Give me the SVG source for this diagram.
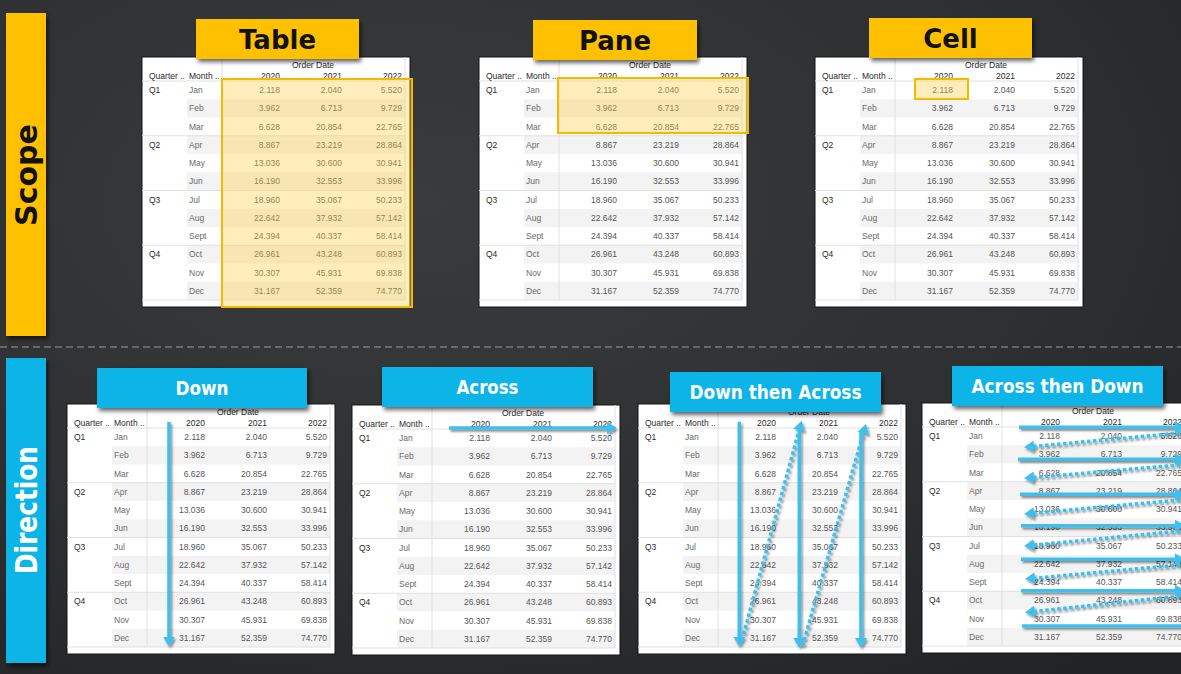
<svg xmlns="http://www.w3.org/2000/svg" width="1181" height="674" viewBox="0 0 1181 674">
<style>
.box{fill:#fff;stroke:#151515;stroke-width:1}
.sh{fill:#f3f3f3}
.gl{stroke:#e0e0e0;stroke-width:1;fill:none}
.hd,.qt,.mo,.va{font-family:'Liberation Sans',Arial,sans-serif;font-size:8.5px}
.hd{fill:#2a2a2a;font-size:8.5px}
.qt{fill:#2a2a2a}
.mo{fill:#6a6a6a}
.va{fill:#555;text-anchor:end}
.e{text-anchor:end}
.ybox{fill:#FFC000}
.bbox{fill:#10B4E8}
.ytxt{font-family:'DejaVu Sans',sans-serif;font-weight:bold;font-size:26px;fill:#111;text-anchor:middle}
.btxt{font-family:'DejaVu Sans',sans-serif;font-weight:bold;font-size:19px;fill:#fff;text-anchor:middle}
.side{font-family:'DejaVu Sans',sans-serif;font-weight:bold;font-size:30px;text-anchor:middle}
.hlt{fill:#ffd24d;fill-opacity:0.38;stroke:#f6b900;stroke-width:2}
.ar{stroke:#41bfec;stroke-width:3.5;fill:none;marker-end:url(#ah)}
.dt{stroke:#41bfec;stroke-width:3.5;fill:none;stroke-dasharray:3.5 2.5;marker-end:url(#ah)}
</style>
<defs>
<radialGradient id="bgg" cx="0.35" cy="0.3" r="0.9">
<stop offset="0" stop-color="#3a3b3d"/>
<stop offset="0.6" stop-color="#2e2f31"/>
<stop offset="1" stop-color="#222325"/>
</radialGradient>
<filter id="shd" x="-10%" y="-20%" width="130%" height="160%">
<feDropShadow dx="2" dy="3" stdDeviation="2" flood-color="#000" flood-opacity="0.6"/>
</filter>
<filter id="ashd" x="-10%" y="-10%" width="120%" height="120%">
<feDropShadow dx="1.5" dy="2" stdDeviation="1" flood-color="#000" flood-opacity="0.45"/>
</filter>
<marker id="ah" viewBox="0 0 10 12" refX="1" refY="6" markerWidth="10" markerHeight="12" markerUnits="userSpaceOnUse" orient="auto">
<path d="M0,0 L10,6 L0,12 Z" fill="#41bfec"/>
</marker>
<g id="grid">
<rect class="box" x="0" y="0" width="268" height="250"/>
<rect class="sh" x="45" y="42.25" width="218" height="18.25"/>
<rect class="sh" x="45" y="78.75" width="218" height="18.25"/>
<rect class="sh" x="45" y="115.25" width="218" height="18.25"/>
<rect class="sh" x="45" y="151.75" width="218" height="18.25"/>
<rect class="sh" x="45" y="188.25" width="218" height="18.25"/>
<rect class="sh" x="45" y="224.75" width="218" height="18.25"/>
<path class="gl" d="M0,24H263M0,78.75H263M0,133.5H263M0,188.25H263M0,243H263M80,0V243M263,0V243"/>
</g>
</defs>

<rect width="1181" height="674" fill="url(#bgg)"/>
<line x1="0" y1="347" x2="1181" y2="347" stroke="#9c9c9c" stroke-width="1.2" stroke-dasharray="7 4"/>

<g id="scope-bar">
<rect x="6" y="13" width="40" height="323" fill="#FFC000" filter="url(#shd)"/>
<text class="side" fill="#111" transform="translate(37,175) rotate(-90)">Scope</text>
</g>
<g id="direction-bar">
<rect x="6" y="358" width="40" height="305" fill="#10B4E8" filter="url(#shd)"/>
<text class="side" fill="#fff" textLength="128" lengthAdjust="spacingAndGlyphs" transform="translate(37,510) rotate(-90)">Direction</text>
</g>

<!-- Table scope -->
<g id="table-scope" transform="translate(142,57)">
<use href="#grid"/>
<g class="hd"><text x="171" y="10.5" text-anchor="middle">Order Date</text><text x="7" y="22">Quarter ..</text><text x="47" y="22">Month ..</text><text class="e" x="138" y="21.5">2020</text><text class="e" x="200" y="21.5">2021</text><text class="e" x="260" y="21.5">2022</text></g>
<g class="qt"><text x="7" y="36.1">Q1</text><text x="7" y="90.85">Q2</text><text x="7" y="145.6">Q3</text><text x="7" y="200.35">Q4</text></g>
<g class="mo" transform="translate(47,0)"><text y="36.1">Jan</text><text y="54.35">Feb</text><text y="72.6">Mar</text><text y="90.85">Apr</text><text y="109.1">May</text><text y="127.35">Jun</text><text y="145.6">Jul</text><text y="163.85">Aug</text><text y="182.1">Sept</text><text y="200.35">Oct</text><text y="218.6">Nov</text><text y="236.85">Dec</text></g>
<g class="va" transform="translate(138,0)"><text y="36.1">2.118</text><text y="54.35">3.962</text><text y="72.6">6.628</text><text y="90.85">8.867</text><text y="109.1">13.036</text><text y="127.35">16.190</text><text y="145.6">18.960</text><text y="163.85">22.642</text><text y="182.1">24.394</text><text y="200.35">26.961</text><text y="218.6">30.307</text><text y="236.85">31.167</text></g>
<g class="va" transform="translate(200,0)"><text y="36.1">2.040</text><text y="54.35">6.713</text><text y="72.6">20.854</text><text y="90.85">23.219</text><text y="109.1">30.600</text><text y="127.35">32.553</text><text y="145.6">35.067</text><text y="163.85">37.932</text><text y="182.1">40.337</text><text y="200.35">43.248</text><text y="218.6">45.931</text><text y="236.85">52.359</text></g>
<g class="va" transform="translate(260,0)"><text y="36.1">5.520</text><text y="54.35">9.729</text><text y="72.6">22.765</text><text y="90.85">28.864</text><text y="109.1">30.941</text><text y="127.35">33.996</text><text y="145.6">50.233</text><text y="163.85">57.142</text><text y="182.1">58.414</text><text y="200.35">60.893</text><text y="218.6">69.838</text><text y="236.85">74.770</text></g>
<rect class="hlt" x="80" y="22" width="190" height="228"/>
</g>

<!-- Pane scope -->
<g id="table-pane" transform="translate(479,57)">
<use href="#grid"/>
<g class="hd"><text x="171" y="10.5" text-anchor="middle">Order Date</text><text x="7" y="22">Quarter ..</text><text x="47" y="22">Month ..</text><text class="e" x="138" y="21.5">2020</text><text class="e" x="200" y="21.5">2021</text><text class="e" x="260" y="21.5">2022</text></g>
<g class="qt"><text x="7" y="36.1">Q1</text><text x="7" y="90.85">Q2</text><text x="7" y="145.6">Q3</text><text x="7" y="200.35">Q4</text></g>
<g class="mo" transform="translate(47,0)"><text y="36.1">Jan</text><text y="54.35">Feb</text><text y="72.6">Mar</text><text y="90.85">Apr</text><text y="109.1">May</text><text y="127.35">Jun</text><text y="145.6">Jul</text><text y="163.85">Aug</text><text y="182.1">Sept</text><text y="200.35">Oct</text><text y="218.6">Nov</text><text y="236.85">Dec</text></g>
<g class="va" transform="translate(138,0)"><text y="36.1">2.118</text><text y="54.35">3.962</text><text y="72.6">6.628</text><text y="90.85">8.867</text><text y="109.1">13.036</text><text y="127.35">16.190</text><text y="145.6">18.960</text><text y="163.85">22.642</text><text y="182.1">24.394</text><text y="200.35">26.961</text><text y="218.6">30.307</text><text y="236.85">31.167</text></g>
<g class="va" transform="translate(200,0)"><text y="36.1">2.040</text><text y="54.35">6.713</text><text y="72.6">20.854</text><text y="90.85">23.219</text><text y="109.1">30.600</text><text y="127.35">32.553</text><text y="145.6">35.067</text><text y="163.85">37.932</text><text y="182.1">40.337</text><text y="200.35">43.248</text><text y="218.6">45.931</text><text y="236.85">52.359</text></g>
<g class="va" transform="translate(260,0)"><text y="36.1">5.520</text><text y="54.35">9.729</text><text y="72.6">22.765</text><text y="90.85">28.864</text><text y="109.1">30.941</text><text y="127.35">33.996</text><text y="145.6">50.233</text><text y="163.85">57.142</text><text y="182.1">58.414</text><text y="200.35">60.893</text><text y="218.6">69.838</text><text y="236.85">74.770</text></g>
<rect class="hlt" x="79" y="21" width="190" height="55"/>
</g>

<!-- Cell scope -->
<g id="table-cell" transform="translate(815,57)">
<use href="#grid"/>
<g class="hd"><text x="171" y="10.5" text-anchor="middle">Order Date</text><text x="7" y="22">Quarter ..</text><text x="47" y="22">Month ..</text><text class="e" x="138" y="21.5">2020</text><text class="e" x="200" y="21.5">2021</text><text class="e" x="260" y="21.5">2022</text></g>
<g class="qt"><text x="7" y="36.1">Q1</text><text x="7" y="90.85">Q2</text><text x="7" y="145.6">Q3</text><text x="7" y="200.35">Q4</text></g>
<g class="mo" transform="translate(47,0)"><text y="36.1">Jan</text><text y="54.35">Feb</text><text y="72.6">Mar</text><text y="90.85">Apr</text><text y="109.1">May</text><text y="127.35">Jun</text><text y="145.6">Jul</text><text y="163.85">Aug</text><text y="182.1">Sept</text><text y="200.35">Oct</text><text y="218.6">Nov</text><text y="236.85">Dec</text></g>
<g class="va" transform="translate(138,0)"><text y="36.1">2.118</text><text y="54.35">3.962</text><text y="72.6">6.628</text><text y="90.85">8.867</text><text y="109.1">13.036</text><text y="127.35">16.190</text><text y="145.6">18.960</text><text y="163.85">22.642</text><text y="182.1">24.394</text><text y="200.35">26.961</text><text y="218.6">30.307</text><text y="236.85">31.167</text></g>
<g class="va" transform="translate(200,0)"><text y="36.1">2.040</text><text y="54.35">6.713</text><text y="72.6">20.854</text><text y="90.85">23.219</text><text y="109.1">30.600</text><text y="127.35">32.553</text><text y="145.6">35.067</text><text y="163.85">37.932</text><text y="182.1">40.337</text><text y="200.35">43.248</text><text y="218.6">45.931</text><text y="236.85">52.359</text></g>
<g class="va" transform="translate(260,0)"><text y="36.1">5.520</text><text y="54.35">9.729</text><text y="72.6">22.765</text><text y="90.85">28.864</text><text y="109.1">30.941</text><text y="127.35">33.996</text><text y="145.6">50.233</text><text y="163.85">57.142</text><text y="182.1">58.414</text><text y="200.35">60.893</text><text y="218.6">69.838</text><text y="236.85">74.770</text></g>
<rect class="hlt" x="100" y="22" width="53" height="20"/>
</g>

<!-- Down -->
<g id="table-down" transform="translate(67,404)">
<use href="#grid"/>
<g class="hd"><text x="171" y="10.5" text-anchor="middle">Order Date</text><text x="7" y="22">Quarter ..</text><text x="47" y="22">Month ..</text><text class="e" x="138" y="21.5">2020</text><text class="e" x="200" y="21.5">2021</text><text class="e" x="260" y="21.5">2022</text></g>
<g class="qt"><text x="7" y="36.1">Q1</text><text x="7" y="90.85">Q2</text><text x="7" y="145.6">Q3</text><text x="7" y="200.35">Q4</text></g>
<g class="mo" transform="translate(47,0)"><text y="36.1">Jan</text><text y="54.35">Feb</text><text y="72.6">Mar</text><text y="90.85">Apr</text><text y="109.1">May</text><text y="127.35">Jun</text><text y="145.6">Jul</text><text y="163.85">Aug</text><text y="182.1">Sept</text><text y="200.35">Oct</text><text y="218.6">Nov</text><text y="236.85">Dec</text></g>
<g class="va" transform="translate(138,0)"><text y="36.1">2.118</text><text y="54.35">3.962</text><text y="72.6">6.628</text><text y="90.85">8.867</text><text y="109.1">13.036</text><text y="127.35">16.190</text><text y="145.6">18.960</text><text y="163.85">22.642</text><text y="182.1">24.394</text><text y="200.35">26.961</text><text y="218.6">30.307</text><text y="236.85">31.167</text></g>
<g class="va" transform="translate(200,0)"><text y="36.1">2.040</text><text y="54.35">6.713</text><text y="72.6">20.854</text><text y="90.85">23.219</text><text y="109.1">30.600</text><text y="127.35">32.553</text><text y="145.6">35.067</text><text y="163.85">37.932</text><text y="182.1">40.337</text><text y="200.35">43.248</text><text y="218.6">45.931</text><text y="236.85">52.359</text></g>
<g class="va" transform="translate(260,0)"><text y="36.1">5.520</text><text y="54.35">9.729</text><text y="72.6">22.765</text><text y="90.85">28.864</text><text y="109.1">30.941</text><text y="127.35">33.996</text><text y="145.6">50.233</text><text y="163.85">57.142</text><text y="182.1">58.414</text><text y="200.35">60.893</text><text y="218.6">69.838</text><text y="236.85">74.770</text></g>
</g>

<!-- Across -->
<g id="table-across" transform="translate(352,405)">
<use href="#grid"/>
<g class="hd"><text x="171" y="10.5" text-anchor="middle">Order Date</text><text x="7" y="22">Quarter ..</text><text x="47" y="22">Month ..</text><text class="e" x="138" y="21.5">2020</text><text class="e" x="200" y="21.5">2021</text><text class="e" x="260" y="21.5">2022</text></g>
<g class="qt"><text x="7" y="36.1">Q1</text><text x="7" y="90.85">Q2</text><text x="7" y="145.6">Q3</text><text x="7" y="200.35">Q4</text></g>
<g class="mo" transform="translate(47,0)"><text y="36.1">Jan</text><text y="54.35">Feb</text><text y="72.6">Mar</text><text y="90.85">Apr</text><text y="109.1">May</text><text y="127.35">Jun</text><text y="145.6">Jul</text><text y="163.85">Aug</text><text y="182.1">Sept</text><text y="200.35">Oct</text><text y="218.6">Nov</text><text y="236.85">Dec</text></g>
<g class="va" transform="translate(138,0)"><text y="36.1">2.118</text><text y="54.35">3.962</text><text y="72.6">6.628</text><text y="90.85">8.867</text><text y="109.1">13.036</text><text y="127.35">16.190</text><text y="145.6">18.960</text><text y="163.85">22.642</text><text y="182.1">24.394</text><text y="200.35">26.961</text><text y="218.6">30.307</text><text y="236.85">31.167</text></g>
<g class="va" transform="translate(200,0)"><text y="36.1">2.040</text><text y="54.35">6.713</text><text y="72.6">20.854</text><text y="90.85">23.219</text><text y="109.1">30.600</text><text y="127.35">32.553</text><text y="145.6">35.067</text><text y="163.85">37.932</text><text y="182.1">40.337</text><text y="200.35">43.248</text><text y="218.6">45.931</text><text y="236.85">52.359</text></g>
<g class="va" transform="translate(260,0)"><text y="36.1">5.520</text><text y="54.35">9.729</text><text y="72.6">22.765</text><text y="90.85">28.864</text><text y="109.1">30.941</text><text y="127.35">33.996</text><text y="145.6">50.233</text><text y="163.85">57.142</text><text y="182.1">58.414</text><text y="200.35">60.893</text><text y="218.6">69.838</text><text y="236.85">74.770</text></g>
</g>

<!-- Down then Across -->
<g id="table-down-then-across" transform="translate(638,404)">
<use href="#grid"/>
<g class="hd"><text x="171" y="10.5" text-anchor="middle">Order Date</text><text x="7" y="22">Quarter ..</text><text x="47" y="22">Month ..</text><text class="e" x="138" y="21.5">2020</text><text class="e" x="200" y="21.5">2021</text><text class="e" x="260" y="21.5">2022</text></g>
<g class="qt"><text x="7" y="36.1">Q1</text><text x="7" y="90.85">Q2</text><text x="7" y="145.6">Q3</text><text x="7" y="200.35">Q4</text></g>
<g class="mo" transform="translate(47,0)"><text y="36.1">Jan</text><text y="54.35">Feb</text><text y="72.6">Mar</text><text y="90.85">Apr</text><text y="109.1">May</text><text y="127.35">Jun</text><text y="145.6">Jul</text><text y="163.85">Aug</text><text y="182.1">Sept</text><text y="200.35">Oct</text><text y="218.6">Nov</text><text y="236.85">Dec</text></g>
<g class="va" transform="translate(138,0)"><text y="36.1">2.118</text><text y="54.35">3.962</text><text y="72.6">6.628</text><text y="90.85">8.867</text><text y="109.1">13.036</text><text y="127.35">16.190</text><text y="145.6">18.960</text><text y="163.85">22.642</text><text y="182.1">24.394</text><text y="200.35">26.961</text><text y="218.6">30.307</text><text y="236.85">31.167</text></g>
<g class="va" transform="translate(200,0)"><text y="36.1">2.040</text><text y="54.35">6.713</text><text y="72.6">20.854</text><text y="90.85">23.219</text><text y="109.1">30.600</text><text y="127.35">32.553</text><text y="145.6">35.067</text><text y="163.85">37.932</text><text y="182.1">40.337</text><text y="200.35">43.248</text><text y="218.6">45.931</text><text y="236.85">52.359</text></g>
<g class="va" transform="translate(260,0)"><text y="36.1">5.520</text><text y="54.35">9.729</text><text y="72.6">22.765</text><text y="90.85">28.864</text><text y="109.1">30.941</text><text y="127.35">33.996</text><text y="145.6">50.233</text><text y="163.85">57.142</text><text y="182.1">58.414</text><text y="200.35">60.893</text><text y="218.6">69.838</text><text y="236.85">74.770</text></g>
</g>

<!-- Across then Down -->
<g id="table-across-then-down" transform="translate(922,403)">
<use href="#grid"/>
<g class="hd"><text x="171" y="10.5" text-anchor="middle">Order Date</text><text x="7" y="22">Quarter ..</text><text x="47" y="22">Month ..</text><text class="e" x="138" y="21.5">2020</text><text class="e" x="200" y="21.5">2021</text><text class="e" x="260" y="21.5">2022</text></g>
<g class="qt"><text x="7" y="36.1">Q1</text><text x="7" y="90.85">Q2</text><text x="7" y="145.6">Q3</text><text x="7" y="200.35">Q4</text></g>
<g class="mo" transform="translate(47,0)"><text y="36.1">Jan</text><text y="54.35">Feb</text><text y="72.6">Mar</text><text y="90.85">Apr</text><text y="109.1">May</text><text y="127.35">Jun</text><text y="145.6">Jul</text><text y="163.85">Aug</text><text y="182.1">Sept</text><text y="200.35">Oct</text><text y="218.6">Nov</text><text y="236.85">Dec</text></g>
<g class="va" transform="translate(138,0)"><text y="36.1">2.118</text><text y="54.35">3.962</text><text y="72.6">6.628</text><text y="90.85">8.867</text><text y="109.1">13.036</text><text y="127.35">16.190</text><text y="145.6">18.960</text><text y="163.85">22.642</text><text y="182.1">24.394</text><text y="200.35">26.961</text><text y="218.6">30.307</text><text y="236.85">31.167</text></g>
<g class="va" transform="translate(200,0)"><text y="36.1">2.040</text><text y="54.35">6.713</text><text y="72.6">20.854</text><text y="90.85">23.219</text><text y="109.1">30.600</text><text y="127.35">32.553</text><text y="145.6">35.067</text><text y="163.85">37.932</text><text y="182.1">40.337</text><text y="200.35">43.248</text><text y="218.6">45.931</text><text y="236.85">52.359</text></g>
<g class="va" transform="translate(260,0)"><text y="36.1">5.520</text><text y="54.35">9.729</text><text y="72.6">22.765</text><text y="90.85">28.864</text><text y="109.1">30.941</text><text y="127.35">33.996</text><text y="145.6">50.233</text><text y="163.85">57.142</text><text y="182.1">58.414</text><text y="200.35">60.893</text><text y="218.6">69.838</text><text y="236.85">74.770</text></g>
</g>

<!-- Title boxes -->
<g id="title-table"><rect class="ybox" x="196" y="19" width="163" height="40" filter="url(#shd)"/><text class="ytxt" x="277.5" y="48.5">Table</text></g>
<g id="title-pane"><rect class="ybox" x="533" y="20" width="164" height="40" filter="url(#shd)"/><text class="ytxt" x="615" y="49.5">Pane</text></g>
<g id="title-cell"><rect class="ybox" x="869" y="18" width="163" height="40" filter="url(#shd)"/><text class="ytxt" x="950.5" y="47.5">Cell</text></g>
<g id="title-down"><rect class="bbox" x="97" y="368" width="210" height="40" filter="url(#shd)"/><text class="btxt" x="202" y="395" textLength="53" lengthAdjust="spacingAndGlyphs">Down</text></g>
<g id="title-across"><rect class="bbox" x="382" y="367" width="211" height="40" filter="url(#shd)"/><text class="btxt" x="487.5" y="394" textLength="62" lengthAdjust="spacingAndGlyphs">Across</text></g>
<g id="title-down-then-across"><rect class="bbox" x="670" y="372" width="211" height="40" filter="url(#shd)"/><text class="btxt" x="775.5" y="399" textLength="172" lengthAdjust="spacingAndGlyphs">Down then Across</text></g>
<g id="title-across-then-down"><rect class="bbox" x="952" y="366" width="211" height="40" filter="url(#shd)"/><text class="btxt" x="1057.5" y="393" textLength="172" lengthAdjust="spacingAndGlyphs">Across then Down</text></g>

<!-- Connectors -->
<g id="connectors" filter="url(#ashd)">
<line class="ar" x1="169" y1="422" x2="169" y2="637.7"/>
<line class="ar" x1="449" y1="428" x2="608" y2="428"/>
<line class="ar" x1="739.3" y1="421.7" x2="739.3" y2="637.7"/>
<line class="dt" x1="742" y1="640" x2="799.3" y2="429.4"/>
<line class="ar" x1="799.3" y1="431" x2="799.3" y2="639"/>
<line class="dt" x1="802.5" y1="646" x2="863.5" y2="432.7"/>
<line class="ar" x1="861" y1="433" x2="861" y2="639"/>
<line class="ar" x1="1019" y1="427.3" x2="1176" y2="427.3"/>
<line class="dt" x1="1180" y1="433" x2="1033" y2="446.5"/>
<line class="ar" x1="1018" y1="459.3" x2="1176" y2="459.3"/>
<line class="dt" x1="1180" y1="465" x2="1033" y2="477.5"/>
<line class="ar" x1="1020" y1="494.3" x2="1176" y2="494.3"/>
<line class="dt" x1="1180" y1="500" x2="1033" y2="513.2"/>
<line class="ar" x1="1021" y1="525.7" x2="1176" y2="525.7"/>
<line class="dt" x1="1180" y1="531" x2="1033" y2="545.2"/>
<line class="ar" x1="1021" y1="559.3" x2="1176" y2="559.3"/>
<line class="dt" x1="1180" y1="565" x2="1034" y2="578.2"/>
<line class="ar" x1="1021" y1="590.7" x2="1176" y2="590.7"/>
<line class="dt" x1="1180" y1="596" x2="1034" y2="611.5"/>
<line class="ar" x1="1022" y1="626" x2="1190" y2="626"/>
</g>
</svg>
